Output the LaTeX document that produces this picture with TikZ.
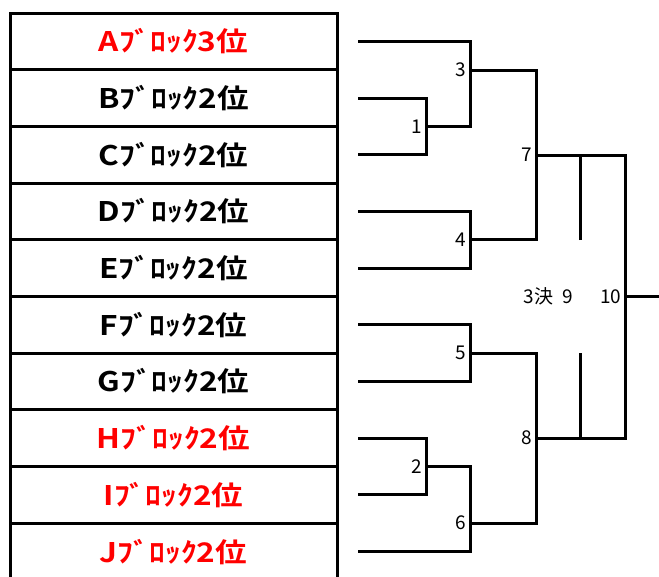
\documentclass[tikz,border=0pt]{standalone}
\usepackage{fontspec}
\newfontfamily\jpfont{Noto Sans CJK JP}
\newfontfamily\jpbold{Noto Sans CJK JP Bold}[FakeStretch=1.17]
\usetikzlibrary{positioning}
\tikzset{
blockbox/.style={draw,line width=3pt,minimum width=327pt,minimum height=56.7pt,inner sep=0pt,font=\jpbold\fontsize{27}{27}\selectfont},
num/.style={inner sep=0pt,font=\jpfont\fontsize{19}{19}\selectfont},
}
\begin{document}
\begin{tikzpicture}[x=1pt,y=-1pt,line width=3pt]
\useasboundingbox (0,0) rectangle (659,576);
\def\h{56.7}
\foreach \bl/\rk/\cl [count=\i] in {A/3/red,B/2/black,C/2/black,D/2/black,E/2/black,F/2/black,G/2/black,H/2/red,I/2/red,J/2/red}{
\pgfmathsetmacro{\y}{13+\h*(\i-0.5)}
\node[blockbox,text=\cl] (blk\bl) at (173.5,\y) {\bl ﾌﾞﾛｯｸ\rk 位};
\coordinate (t\bl) at (358,\y);
}
\coordinate (m1) at (426,126.4);
\coordinate (m3) at (470,70);
\coordinate (m4) at (470,239.7);
\coordinate (m7) at (536,155);
\coordinate (m5) at (470,353.2);
\coordinate (m2) at (426,466.6);
\coordinate (m6) at (470,523);
\coordinate (m8) at (536,438);
\coordinate (m10) at (625,296.5);
\coordinate (win) at (665,296.5);
\coordinate (s7) at (580,240);
\coordinate (s8) at (580,353);
\def\match#1#2#3{\draw (#2) -| (#1) |- (#3);}
\match{m1}{tB}{tC}
\match{m3}{tA}{m1}
\match{m4}{tD}{tE}
\match{m7}{m3}{m4}
\match{m5}{tF}{tG}
\match{m2}{tH}{tI}
\match{m6}{m2}{tJ}
\match{m8}{m5}{m6}
\match{m10}{m7}{m8}
\draw (m10) -- (win);
\draw (s7) -- (s7 |- m7);
\draw (s8) -- (s8 |- m8);
\foreach \m in {1,...,8,10}{
\node[num,left=2pt of m\m] (n\m) {\m};
}
\node[num,left=24pt of n10] (n9) {3決\hspace{0.5em}9};
\end{tikzpicture}
\end{document}
